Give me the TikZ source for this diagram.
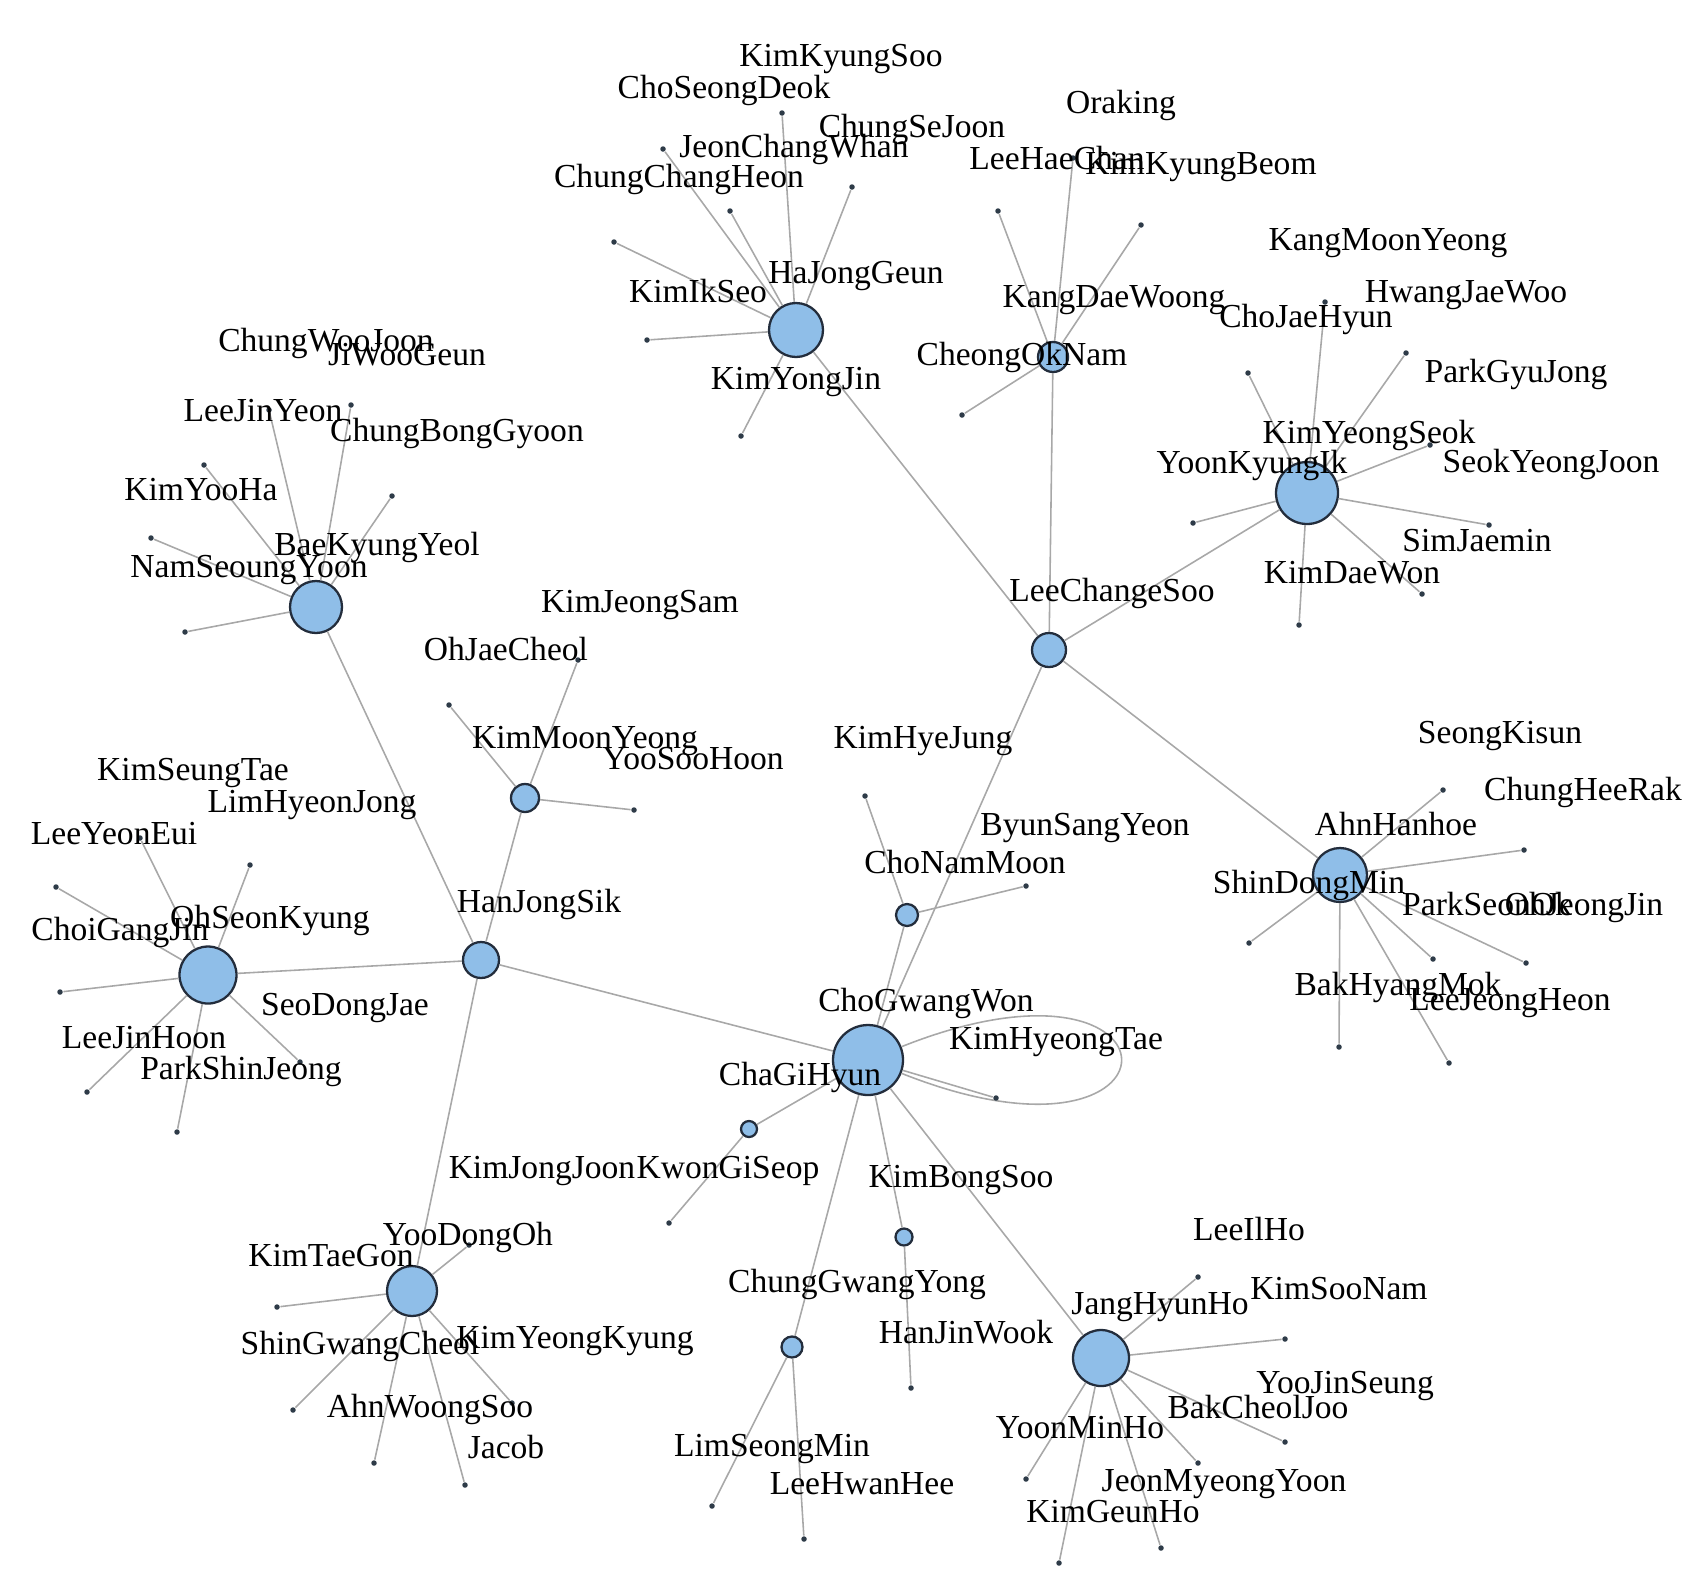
\documentclass[tikz,border=0pt]{standalone}
\usepackage{fontspec}
\setmainfont{Liberation Serif}
\usepackage{xcolor}
\usepackage{tikz}
\definecolor{NetHub}{HTML}{8FBEE8}
\definecolor{NetRim}{HTML}{232D3C}
\definecolor{NetEdge}{HTML}{A8A8A8}
\definecolor{NetDot}{HTML}{2E3B48}
\tikzset{
  net hub/.style={
    circle,
    draw=NetRim,
    fill=NetHub,
    line width=0.65pt,
    inner sep=0pt
  },
  net leaf/.style={
    circle,
    fill=NetDot,
    inner sep=0pt,
    minimum size=0.55mm
  },
  net edge/.style={draw=NetEdge, line width=0.45pt},
  net label/.style={
    inner sep=0pt,
    text height=8.1pt,
    text depth=2.1pt,
    font=\fontsize{9.55pt}{10pt}\selectfont
  }
}

\begin{document}
\begin{tikzpicture}[x=0.1mm, y=-0.1mm]
  \useasboundingbox (0,0) rectangle (1708,1580);

  % hubs
  \node[net hub, minimum size=5.4mm] (kyj) at (796,330) {};
  \node[net hub, minimum size=3.0mm] (con) at (1053,357) {};
  \node[net hub, minimum size=3.4mm] (lcs) at (1049,650) {};
  \node[net hub, minimum size=6.2mm] (yki) at (1307,493) {};
  \node[net hub, minimum size=5.2mm] (nsy) at (316,607) {};
  \node[net hub, minimum size=2.8mm] (kmy) at (525,798) {};
  \node[net hub, minimum size=3.6mm] (hjs) at (481,960) {};
  \node[net hub, minimum size=5.7mm] (osk) at (208,975) {};
  \node[net hub, minimum size=7.0mm] (cgh) at (868,1060) {};
  \node[net hub, minimum size=2.2mm] (cnm) at (907,915) {};
  \node[net hub, minimum size=1.6mm] (kjj) at (749,1129) {};
  \node[net hub, minimum size=5.4mm] (sdm) at (1340,875) {};
  \node[net hub, minimum size=5.0mm] (ktg) at (412,1291) {};
  \node[net hub, minimum size=2.1mm] (cgy) at (792,1347) {};
  \node[net hub, minimum size=1.7mm] (kbs) at (904,1237) {};
  \node[net hub, minimum size=5.6mm] (jhh) at (1101,1358) {};

  % hub to hub
  \draw[net edge] (kyj) -- (lcs) (con) -- (lcs) (yki) -- (lcs) (sdm) -- (lcs);
  \draw[net edge] (lcs) -- (cgh) (hjs) -- (cgh) (cnm) -- (cgh) (kjj) -- (cgh);
  \draw[net edge] (cgy) -- (cgh) (kbs) -- (cgh) (jhh) -- (cgh);
  \draw[net edge] (nsy) -- (hjs) (kmy) -- (hjs) (osk) -- (hjs) (ktg) -- (hjs);
  \draw[net edge] (cgh) .. controls (1195,930) and (1195,1190) .. (cgh);

  % leaves of KimYongJin
  \node[net leaf] (kyjA) at (782,113) {};
  \node[net leaf] (kyjB) at (663,149) {};
  \node[net leaf] (kyjC) at (730,211) {};
  \node[net leaf] (kyjD) at (852,187) {};
  \node[net leaf] (kyjE) at (614,242) {};
  \node[net leaf] (kyjF) at (647,340) {};
  \node[net leaf] (kyjG) at (741,436) {};
  \draw[net edge] (kyj) -- (kyjA) (kyj) -- (kyjB) (kyj) -- (kyjC) (kyj) -- (kyjD)
    (kyj) -- (kyjE) (kyj) -- (kyjF) (kyj) -- (kyjG);

  % leaves of CheongOkNam
  \node[net leaf] (conA) at (998,211) {};
  \node[net leaf] (conB) at (1073,158) {};
  \node[net leaf] (conC) at (1141,225) {};
  \node[net leaf] (conD) at (962,415) {};
  \draw[net edge] (con) -- (conA) (con) -- (conB) (con) -- (conC) (con) -- (conD);

  % leaves of YoonKyungIk
  \node[net leaf] (ykiA) at (1248,373) {};
  \node[net leaf] (ykiB) at (1325,302) {};
  \node[net leaf] (ykiC) at (1406,353) {};
  \node[net leaf] (ykiD) at (1430,445) {};
  \node[net leaf] (ykiE) at (1193,523) {};
  \node[net leaf] (ykiF) at (1489,525) {};
  \node[net leaf] (ykiG) at (1422,594) {};
  \node[net leaf] (ykiH) at (1299,625) {};
  \draw[net edge] (yki) -- (ykiA) (yki) -- (ykiB) (yki) -- (ykiC) (yki) -- (ykiD)
    (yki) -- (ykiE) (yki) -- (ykiF) (yki) -- (ykiG) (yki) -- (ykiH);

  % leaves of NamSeoungYoon
  \node[net leaf] (nsyA) at (351,405) {};
  \node[net leaf] (nsyB) at (269,410) {};
  \node[net leaf] (nsyC) at (204,465) {};
  \node[net leaf] (nsyD) at (392,496) {};
  \node[net leaf] (nsyE) at (151,538) {};
  \node[net leaf] (nsyF) at (185,632) {};
  \draw[net edge] (nsy) -- (nsyA) (nsy) -- (nsyB) (nsy) -- (nsyC) (nsy) -- (nsyD)
    (nsy) -- (nsyE) (nsy) -- (nsyF);

  % leaves of KimMoonYeong
  \node[net leaf] (kmyA) at (449,705) {};
  \node[net leaf] (kmyB) at (578,660) {};
  \node[net leaf] (kmyC) at (634,810) {};
  \draw[net edge] (kmy) -- (kmyA) (kmy) -- (kmyB) (kmy) -- (kmyC);

  % leaves of OhSeonKyung
  \node[net leaf] (oskA) at (250,865) {};
  \node[net leaf] (oskB) at (56,887) {};
  \node[net leaf] (oskC) at (140,838) {};
  \node[net leaf] (oskD) at (60,992) {};
  \node[net leaf] (oskE) at (87,1092) {};
  \node[net leaf] (oskF) at (177,1132) {};
  \node[net leaf] (oskG) at (300,1062) {};
  \draw[net edge] (osk) -- (oskA) (osk) -- (oskB) (osk) -- (oskC) (osk) -- (oskD)
    (osk) -- (oskE) (osk) -- (oskF) (osk) -- (oskG);

  % leaves of ChoNamMoon, the small hubs and ChaGiHyun
  \node[net leaf] (cnmA) at (865,796) {};
  \node[net leaf] (cnmB) at (1026,886) {};
  \node[net leaf] (kjjA) at (669,1223) {};
  \node[net leaf] (cgyA) at (712,1506) {};
  \node[net leaf] (cgyB) at (804,1539) {};
  \node[net leaf] (kbsA) at (911,1388) {};
  \node[net leaf] (cghA) at (996,1098) {};
  \draw[net edge] (cnm) -- (cnmA) (cnm) -- (cnmB) (kjj) -- (kjjA)
    (cgy) -- (cgyA) (cgy) -- (cgyB) (kbs) -- (kbsA) (cgh) -- (cghA);

  % leaves of ShinDongMin
  \node[net leaf] (sdmA) at (1443,790) {};
  \node[net leaf] (sdmB) at (1524,850) {};
  \node[net leaf] (sdmC) at (1249,943) {};
  \node[net leaf] (sdmD) at (1433,959) {};
  \node[net leaf] (sdmE) at (1526,963) {};
  \node[net leaf] (sdmF) at (1339,1047) {};
  \node[net leaf] (sdmG) at (1449,1063) {};
  \draw[net edge] (sdm) -- (sdmA) (sdm) -- (sdmB) (sdm) -- (sdmC) (sdm) -- (sdmD)
    (sdm) -- (sdmE) (sdm) -- (sdmF) (sdm) -- (sdmG);

  % leaves of KimTaeGon
  \node[net leaf] (ktgA) at (277,1307) {};
  \node[net leaf] (ktgB) at (293,1410) {};
  \node[net leaf] (ktgC) at (374,1463) {};
  \node[net leaf] (ktgD) at (465,1485) {};
  \node[net leaf] (ktgE) at (512,1403) {};
  \node[net leaf] (ktgF) at (469,1245) {};
  \draw[net edge] (ktg) -- (ktgA) (ktg) -- (ktgB) (ktg) -- (ktgC) (ktg) -- (ktgD)
    (ktg) -- (ktgE) (ktg) -- (ktgF);

  % leaves of JangHyunHo
  \node[net leaf] (jhhA) at (1198,1277) {};
  \node[net leaf] (jhhB) at (1285,1339) {};
  \node[net leaf] (jhhC) at (1285,1442) {};
  \node[net leaf] (jhhD) at (1198,1463) {};
  \node[net leaf] (jhhE) at (1161,1548) {};
  \node[net leaf] (jhhF) at (1026,1479) {};
  \node[net leaf] (jhhG) at (1059,1563) {};
  \draw[net edge] (jhh) -- (jhhA) (jhh) -- (jhhB) (jhh) -- (jhhC) (jhh) -- (jhhD)
    (jhh) -- (jhhE) (jhh) -- (jhhF) (jhh) -- (jhhG);

  % names
  \node[net label] (tKimKyungSoo) at (841,56) {KimKyungSoo};
  \node[net label] (tChoSeongDeok) at (724,88) {ChoSeongDeok};
  \node[net label] (tChungSeJoon) at (912,127) {ChungSeJoon};
  \node[net label] (tJeonChangWhan) at (794,147) {JeonChangWhan};
  \node[net label] (tChungChangHeon) at (679,177) {ChungChangHeon};
  \node[net label] (tHaJongGeun) at (856,273) {HaJongGeun};
  \node[net label] (tKimIkSeo) at (698,292) {KimIkSeo};
  \node[net label] (tKimYongJin) at (796,379) {KimYongJin};
  \node[net label] (tCheongOkNam) at (1022,355) {CheongOkNam};
  \node[net label] (tOraking) at (1121,103) {Oraking};
  \node[net label] (tLeeHaeChan) at (1057,159) {LeeHaeChan};
  \node[net label] (tKimKyungBeom) at (1201,164) {KimKyungBeom};
  \node[net label] (tKangDaeWoong) at (1114,297) {KangDaeWoong};
  \node[net label] (tKangMoonYeong) at (1388,240) {KangMoonYeong};
  \node[net label] (tHwangJaeWoo) at (1466,292) {HwangJaeWoo};
  \node[net label] (tChoJaeHyun) at (1306,317) {ChoJaeHyun};
  \node[net label] (tParkGyuJong) at (1516,372) {ParkGyuJong};
  \node[net label] (tKimYeongSeok) at (1369,433) {KimYeongSeok};
  \node[net label] (tYoonKyungIk) at (1252,463) {YoonKyungIk};
  \node[net label] (tSeokYeongJoon) at (1551,462) {SeokYeongJoon};
  \node[net label] (tSimJaemin) at (1477,541) {SimJaemin};
  \node[net label] (tKimDaeWon) at (1352,573) {KimDaeWon};
  \node[net label] (tLeeChangeSoo) at (1112,591) {LeeChangeSoo};
  \node[net label] (tChungWooJoon) at (326,341) {ChungWooJoon};
  \node[net label] (tJiWooGeun) at (407,355) {JiWooGeun};
  \node[net label] (tLeeJinYeon) at (263,411) {LeeJinYeon};
  \node[net label] (tChungBongGyoon) at (457,431) {ChungBongGyoon};
  \node[net label] (tKimYooHa) at (201,490) {KimYooHa};
  \node[net label] (tBaeKyungYeol) at (377,545) {BaeKyungYeol};
  \node[net label] (tNamSeoungYoon) at (249,567) {NamSeoungYoon};
  \node[net label] (tKimJeongSam) at (640,602) {KimJeongSam};
  \node[net label] (tOhJaeCheol) at (506,650) {OhJaeCheol};
  \node[net label] (tKimMoonYeong) at (585,738) {KimMoonYeong};
  \node[net label] (tYooSooHoon) at (693,759) {YooSooHoon};
  \node[net label] (tKimHyeJung) at (923,738) {KimHyeJung};
  \node[net label] (tSeongKisun) at (1500,733) {SeongKisun};
  \node[net label] (tChungHeeRak) at (1583,790) {ChungHeeRak};
  \node[net label] (tAhnHanhoe) at (1396,825) {AhnHanhoe};
  \node[net label] (tShinDongMin) at (1309,883) {ShinDongMin};
  \node[net label] (tParkSeonOk) at (1487,905) {ParkSeonOk};
  \node[net label] (tOhJeongJin) at (1584,905) {OhJeongJin};
  \node[net label] (tBakHyangMok) at (1398,985) {BakHyangMok};
  \node[net label] (tLeeJeongHeon) at (1510,1000) {LeeJeongHeon};
  \node[net label] (tByunSangYeon) at (1085,825) {ByunSangYeon};
  \node[net label] (tChoNamMoon) at (965,863) {ChoNamMoon};
  \node[net label] (tHanJongSik) at (539,902) {HanJongSik};
  \node[net label] (tKimSeungTae) at (193,770) {KimSeungTae};
  \node[net label] (tLimHyeonJong) at (312,802) {LimHyeonJong};
  \node[net label] (tLeeYeonEui) at (114,834) {LeeYeonEui};
  \node[net label] (tChoiGangJin) at (120,930) {ChoiGangJin};
  \node[net label] (tOhSeonKyung) at (270,918) {OhSeonKyung};
  \node[net label] (tSeoDongJae) at (345,1005) {SeoDongJae};
  \node[net label] (tLeeJinHoon) at (144,1038) {LeeJinHoon};
  \node[net label] (tParkShinJeong) at (241,1069) {ParkShinJeong};
  \node[net label] (tChoGwangWon) at (926,1001) {ChoGwangWon};
  \node[net label] (tKimHyeongTae) at (1056,1039) {KimHyeongTae};
  \node[net label] (tChaGiHyun) at (800,1075) {ChaGiHyun};
  \node[net label] (tKimJongJoon) at (542,1168) {KimJongJoon};
  \node[net label] (tKwonGiSeop) at (728,1168) {KwonGiSeop};
  \node[net label] (tKimBongSoo) at (961,1177) {KimBongSoo};
  \node[net label] (tChungGwangYong) at (857,1282) {ChungGwangYong};
  \node[net label] (tHanJinWook) at (966,1333) {HanJinWook};
  \node[net label] (tLimSeongMin) at (772,1446) {LimSeongMin};
  \node[net label] (tLeeHwanHee) at (862,1484) {LeeHwanHee};
  \node[net label] (tYooDongOh) at (468,1235) {YooDongOh};
  \node[net label] (tKimTaeGon) at (331,1256) {KimTaeGon};
  \node[net label] (tShinGwangCheol) at (360,1344) {ShinGwangCheol};
  \node[net label] (tKimYeongKyung) at (575,1338) {KimYeongKyung};
  \node[net label] (tAhnWoongSoo) at (430,1407) {AhnWoongSoo};
  \node[net label] (tJacob) at (506,1448) {Jacob};
  \node[net label] (tLeeIlHo) at (1249,1230) {LeeIlHo};
  \node[net label] (tJangHyunHo) at (1160,1304) {JangHyunHo};
  \node[net label] (tKimSooNam) at (1339,1289) {KimSooNam};
  \node[net label] (tYooJinSeung) at (1345,1383) {YooJinSeung};
  \node[net label] (tBakCheolJoo) at (1258,1408) {BakCheolJoo};
  \node[net label] (tYoonMinHo) at (1080,1428) {YoonMinHo};
  \node[net label] (tJeonMyeongYoon) at (1224,1481) {JeonMyeongYoon};
  \node[net label] (tKimGeunHo) at (1113,1512) {KimGeunHo};
\end{tikzpicture}
\end{document}
